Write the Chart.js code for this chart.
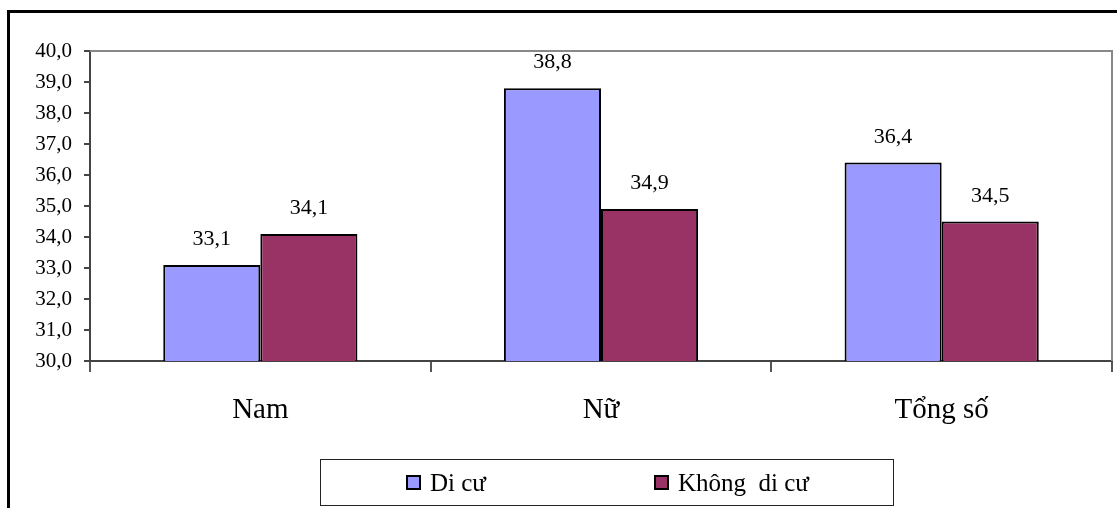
<!DOCTYPE html>
<html lang="vi">
<head>
<meta charset="UTF-8">
<title>Di cư / Không di cư</title>
<script src="https://cdn.jsdelivr.net/npm/chart.js"></script>
<style>
  body { margin: 0; background: #fff; }
  canvas { display: block; }
</style>
</head>
<body>
<canvas id="chart" width="1117" height="508"></canvas>
<script>
const categories = ['Nam', 'Nữ', 'Tổng số'];
const diCu = [33.1, 38.8, 36.4];
const khongDiCu = [34.1, 34.9, 34.5];
const seriesNames = ['Di cư', 'Không  di cư'];
const seriesColors = ['#9999FF', '#993366'];

const serif = '"Liberation Serif", "Times New Roman", serif';
const fmt = v => v.toFixed(1).replace('.', ',');

// outer frame + plot box (gray top/right edges)
const framePlugin = {
  id: 'frame',
  beforeDraw(chart) {
    const ctx = chart.ctx;
    ctx.save();
    ctx.fillStyle = '#fff';
    ctx.fillRect(0, 0, chart.width, chart.height);
    ctx.strokeStyle = '#000';
    ctx.lineWidth = 3;
    ctx.beginPath();
    ctx.moveTo(8.5, chart.height);
    ctx.lineTo(8.5, 11.5);
    ctx.lineTo(chart.width, 11.5);
    ctx.stroke();
    ctx.restore();
  },
  afterDraw(chart) {
    const a = chart.chartArea, ctx = chart.ctx;
    ctx.save();
    ctx.strokeStyle = '#888';
    ctx.lineWidth = 2;
    ctx.beginPath();
    ctx.moveTo(a.left, a.top);
    ctx.lineTo(a.right, a.top);
    ctx.lineTo(a.right, a.bottom);
    ctx.stroke();
    ctx.restore();
  }
};

// value labels above each bar
const valueLabels = {
  id: 'valueLabels',
  afterDatasetsDraw(chart) {
    const ctx = chart.ctx;
    ctx.save();
    ctx.font = '22px ' + serif;
    ctx.fillStyle = '#000';
    ctx.textAlign = 'center';
    ctx.textBaseline = 'alphabetic';
    chart.data.datasets.forEach((ds, i) => {
      chart.getDatasetMeta(i).data.forEach((bar, j) => {
        ctx.fillText(fmt(ds.data[j]), bar.x, bar.y - 20);
      });
    });
    ctx.restore();
  }
};

// boxed legend under the axis
const boxLegend = {
  id: 'boxLegend',
  afterDraw(chart) {
    const ctx = chart.ctx;
    const itemX = [407, 655];
    ctx.save();
    ctx.strokeStyle = '#222';
    ctx.lineWidth = 1;
    ctx.strokeRect(320.5, 459.5, 573, 46);
    ctx.font = '25px ' + serif;
    ctx.textBaseline = 'alphabetic';
    chart.data.datasets.forEach((ds, i) => {
      const x = itemX[i];
      ctx.fillStyle = ds.backgroundColor;
      ctx.fillRect(x, 476, 13, 13);
      ctx.strokeStyle = '#000';
      ctx.lineWidth = 2;
      ctx.strokeRect(x, 476, 13, 13);
      ctx.fillStyle = '#000';
      ctx.fillText(ds.label, x + 23, 491);
    });
    ctx.restore();
  }
};

new Chart(document.getElementById('chart'), {
  type: 'bar',
  data: {
    labels: categories,
    datasets: [
      { label: seriesNames[0], data: diCu, backgroundColor: seriesColors[0] },
      { label: seriesNames[1], data: khongDiCu, backgroundColor: seriesColors[1] }
    ]
  },
  options: {
    responsive: false,
    animation: false,
    layout: { padding: { left: 0, right: 5, top: 51, bottom: 0 } },
    datasets: {
      bar: {
        categoryPercentage: 0.57,
        barPercentage: 1,
        borderColor: '#000',
        borderWidth: 2,
        borderSkipped: false
      }
    },
    plugins: {
      legend: { display: false },
      tooltip: { enabled: false }
    },
    scales: {
      x: {
        afterFit: s => { s.height = 147; },
        grid: { drawOnChartArea: false, tickLength: 11, color: '#555', lineWidth: 2 },
        border: { color: '#444', width: 2 },
        ticks: { color: '#000', padding: 21, font: { family: serif, size: 29 } }
      },
      y: {
        min: 30,
        max: 40,
        afterFit: s => { s.width = 90; },
        grid: { drawOnChartArea: false, tickLength: 6, color: '#444', lineWidth: 2 },
        border: { color: '#444', width: 2 },
        ticks: {
          stepSize: 1,
          color: '#000',
          padding: 12,
          font: { family: serif, size: 21 },
          callback: v => fmt(v)
        }
      }
    }
  },
  plugins: [framePlugin, valueLabels, boxLegend]
});
</script>
</body>
</html>
